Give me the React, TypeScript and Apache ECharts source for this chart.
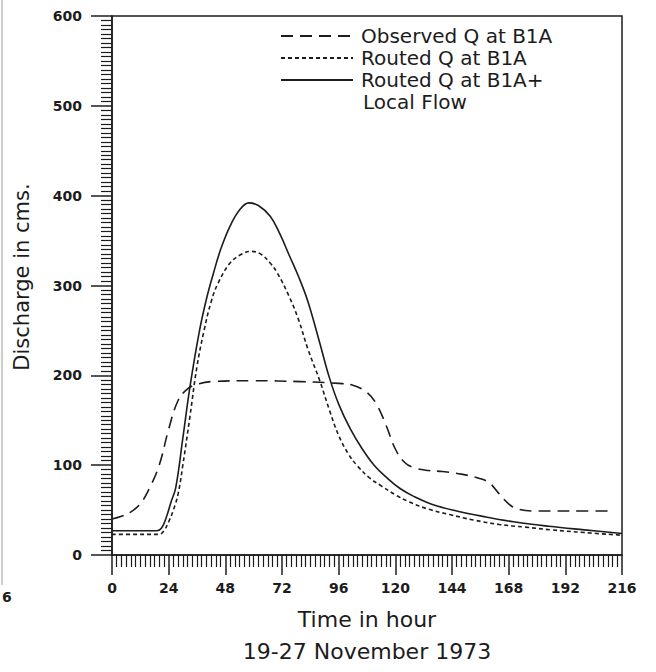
import React, { useEffect, useRef } from "react";
import * as echarts from "echarts";

const xTicks = [0, 24, 48, 72, 96, 120, 144, 168, 192, 216];
const yTicks = [0, 100, 200, 300, 400, 500, 600];

const obsHours = [0, 4, 8, 12, 16, 20, 24, 28, 32, 36, 42, 60, 80, 96, 102, 108, 112, 116, 120, 124, 128, 134, 140, 148, 156, 160, 164, 168, 172, 180, 200, 212];
const obsValues = [40, 43, 48, 57, 75, 100, 140, 172, 185, 190, 193, 194, 193, 191, 189, 181, 168, 145, 118, 103, 97, 94, 93, 90, 85, 80, 68, 57, 51, 49, 49, 49];

const routedHours = [0, 10, 20, 22, 24, 26, 28, 30, 33, 36, 39, 42, 45, 50, 55, 59, 63, 67, 70, 75, 79, 83, 88, 92, 96, 100, 104, 109, 114, 120, 126, 134, 143, 153, 164, 175, 186, 200, 216];
const routedValues = [23, 23, 23, 27, 37, 50, 68, 100, 154, 210, 250, 282, 303, 325, 335, 338, 335, 325, 314, 288, 262, 229, 194, 162, 133, 113, 99, 86, 77, 67, 59, 51, 45, 39, 34, 31, 28, 25, 22];

const localHours = [0, 10, 19, 21, 23, 25, 27, 30, 33, 37, 40, 43, 46, 50, 54, 58, 62, 67, 71, 75, 79, 83, 88, 92, 96, 101, 106, 111, 116, 122, 128, 136, 146, 157, 170, 185, 200, 216];
const localValues = [27, 27, 27, 30, 42, 59, 75, 130, 187, 249, 285, 314, 340, 366, 384, 392, 389, 377, 358, 334, 310, 282, 236, 198, 168, 140, 118, 100, 87, 74, 65, 56, 49, 43, 37, 32, 28, 24];

const seriesNames = ["Observed Q at B1A", "Routed Q at B1A", "Routed Q at B1A+"];
const legendExtra = "Local Flow";

const zip = (xs: number[], ys: number[]) => xs.map((x, i) => [x, ys[i]]);

const INK = "#1c1c1c";
const FONT = "DejaVu Sans";

export default function App() {
  const ref = useRef<HTMLDivElement>(null);
  useEffect(() => {
    const chart = echarts.init(ref.current!, null, { renderer: "svg" });
    const lineBase = { type: "line", showSymbol: false, symbol: "none", smooth: 0.4 };
    chart.setOption({
      animation: false,
      backgroundColor: "#ffffff",
      textStyle: { fontFamily: FONT, color: INK },
      grid: { left: 112, top: 16, width: 510, height: 548, show: true, borderColor: INK, borderWidth: 1.5, backgroundColor: "transparent" },
      legend: {
        orient: "vertical",
        left: 280,
        top: 25,
        padding: 0,
        itemGap: 0,
        itemWidth: 72,
        itemHeight: 14,
        data: seriesNames,
        itemStyle: { color: "transparent", borderColor: "transparent", borderWidth: 0 },
        textStyle: { fontFamily: FONT, fontSize: 20, lineHeight: 22, color: INK, padding: [0, 0, 0, 3] },
      },
      xAxis: {
        type: "value",
        min: xTicks[0],
        max: xTicks[xTicks.length - 1],
        interval: 24,
        name: "Time in hour\n19-27 November 1973",
        nameLocation: "middle",
        nameGap: 48,
        nameTextStyle: { fontFamily: FONT, fontSize: 22, lineHeight: 32, color: INK },
        axisLine: { show: true, lineStyle: { color: INK, width: 1.5 } },
        axisTick: { show: true, length: 20, lineStyle: { color: INK, width: 1.5 } },
        minorTick: { show: true, splitNumber: 12, length: 12, lineStyle: { color: INK, width: 1.2 } },
        axisLabel: { fontFamily: FONT, fontSize: 14, fontWeight: "bold", color: INK, margin: 26, showMaxLabel: true, showMinLabel: true },
        splitLine: { show: false },
      },
      yAxis: {
        type: "value",
        min: yTicks[0],
        max: yTicks[yTicks.length - 1],
        interval: 100,
        axisLine: { show: true, lineStyle: { color: INK, width: 1.5 } },
        axisTick: { show: true, length: 21, lineStyle: { color: INK, width: 1.5 } },
        minorTick: { show: true, splitNumber: 20, length: 11, lineStyle: { color: INK, width: 1.2 } },
        axisLabel: { fontFamily: FONT, fontSize: 14, fontWeight: "bold", color: INK, margin: 30 },
        splitLine: { show: false },
      },
      graphic: [
        { type: "text", left: 363, top: 92, style: { text: legendExtra, fontFamily: FONT, fontSize: 20, fill: INK } },
        { type: "text", x: 22, y: 277, rotation: Math.PI / 2, style: { text: "Discharge in cms.", fontFamily: FONT, fontSize: 21, fill: INK, textAlign: "center", textVerticalAlign: "middle" } },
        { type: "text", x: 2, y: 597, style: { text: "6", fontFamily: FONT, fontSize: 14, fontWeight: "bold", fill: INK, textVerticalAlign: "middle" } },
        { type: "line", shape: { x1: 2, y1: 0, x2: 2, y2: 585 }, style: { stroke: "#9a9a9a", lineWidth: 1 } },
      ],
      series: [
        { ...lineBase, name: seriesNames[0], data: zip(obsHours, obsValues), lineStyle: { color: INK, width: 1.6, type: [12, 7] }, itemStyle: { color: INK } },
        { ...lineBase, name: seriesNames[1], data: zip(routedHours, routedValues), lineStyle: { color: INK, width: 1.6, type: [4, 3] }, itemStyle: { color: INK } },
        { ...lineBase, name: seriesNames[2], data: zip(localHours, localValues), lineStyle: { color: INK, width: 1.6, type: "solid" }, itemStyle: { color: INK } },
      ],
    });
    return () => chart.dispose();
  }, []);
  return <div ref={ref} style={{ position: "absolute", left: 0, top: 0, width: 656, height: 672 }} />;
}
